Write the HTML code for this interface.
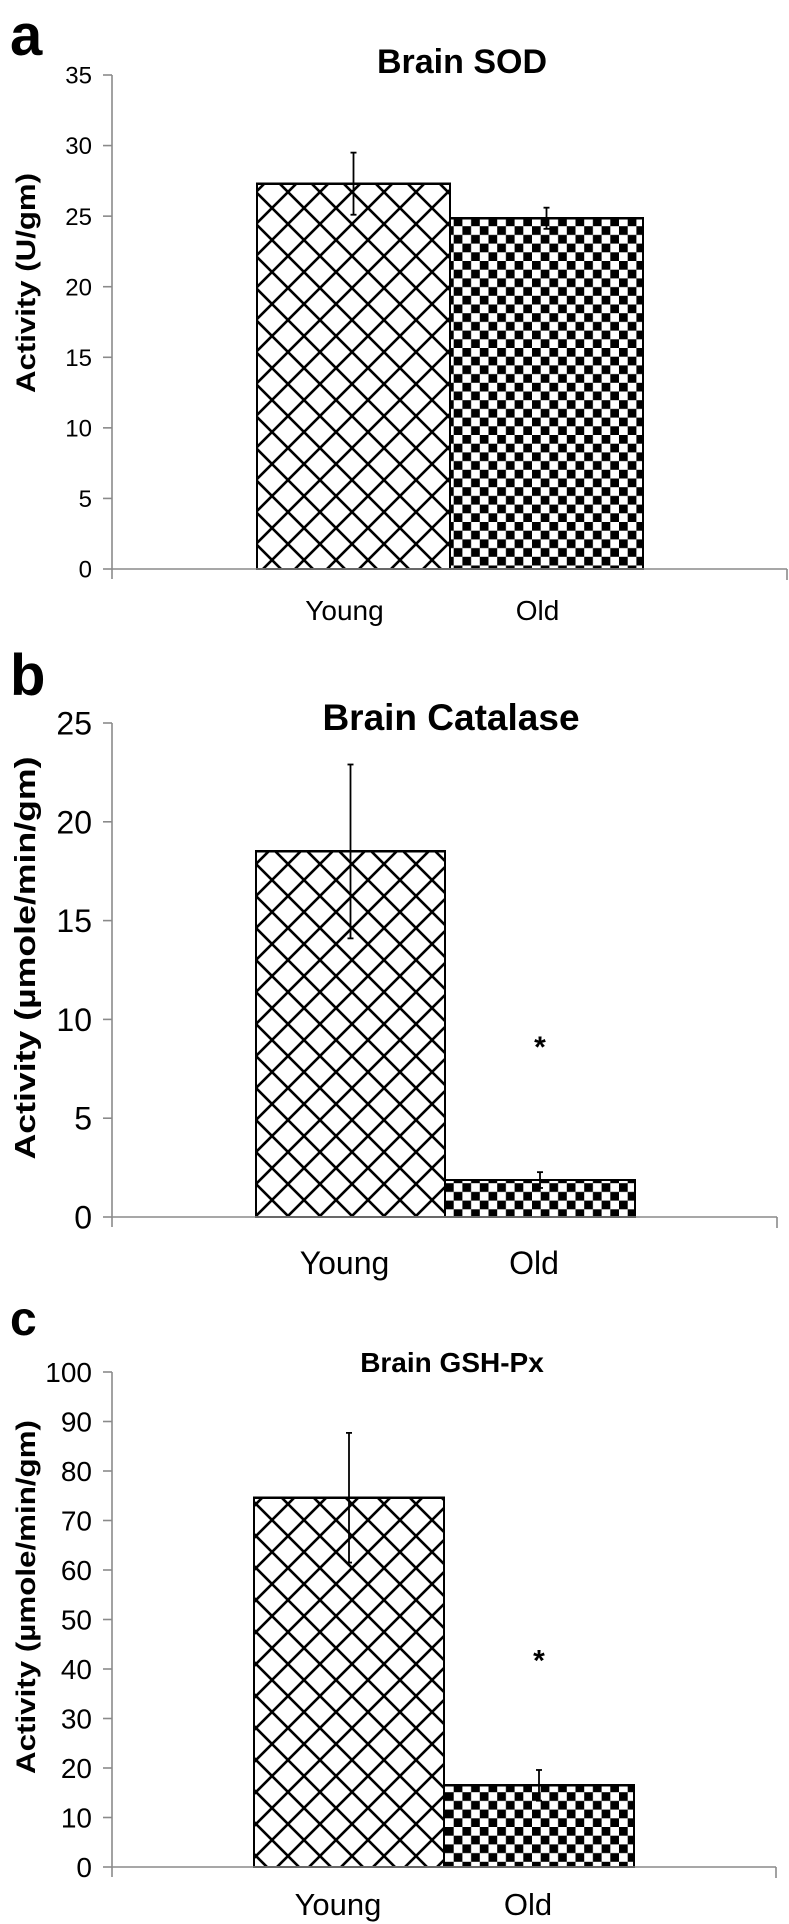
<!DOCTYPE html>
<html><head><meta charset="utf-8">
<style>
html,body{margin:0;padding:0;background:#fff;}
svg{display:block;font-family:"Liberation Sans",Arial,sans-serif;}
</style></head>
<body>
<svg id="fig" width="789" height="1924" viewBox="0 0 789 1924" xmlns="http://www.w3.org/2000/svg">
<defs>
<pattern id="diamond" patternUnits="userSpaceOnUse" width="32" height="32" x="256" y="0">
<path d="M0,0 L32,32 M32,0 L0,32" stroke="#000" stroke-width="2.6" fill="none"/>
</pattern>
<pattern id="checker" patternUnits="userSpaceOnUse" width="17.4" height="17.4" x="445" y="0">
<rect x="0" y="0" width="8.7" height="8.7" fill="#000"/>
<rect x="8.7" y="8.7" width="8.7" height="8.7" fill="#000"/>
</pattern>
</defs>
<text x="10" y="55" font-size="58" font-weight="bold">a</text>
<text x="10" y="695" font-size="58" font-weight="bold">b</text>
<text x="10" y="1335" font-size="48" font-weight="bold">c</text>
<text x="462" y="73" font-size="34" font-weight="bold" text-anchor="middle">Brain SOD</text>
<text x="451" y="730" font-size="37" font-weight="bold" text-anchor="middle">Brain Catalase</text>
<text x="452" y="1372" font-size="28" font-weight="bold" text-anchor="middle">Brain GSH-Px</text>
<text transform="translate(35,283) rotate(-90)" font-size="27" font-weight="bold" text-anchor="middle" textLength="220" lengthAdjust="spacingAndGlyphs">Activity (U/gm)</text>
<text transform="translate(35,958) rotate(-90)" font-size="29" font-weight="bold" text-anchor="middle" textLength="403" lengthAdjust="spacingAndGlyphs">Activity (µmole/min/gm)</text>
<text transform="translate(35,1597) rotate(-90)" font-size="27" font-weight="bold" text-anchor="middle" textLength="354" lengthAdjust="spacingAndGlyphs">Activity (µmole/min/gm)</text>
</svg>
<script>
const categories = ["Young", "Old"];
const sodValues = [27.3, 24.85];
const sodErrors = [2.2, 0.75];
const sodTicks = [0, 5, 10, 15, 20, 25, 30, 35];
const catalaseValues = [18.5, 1.87];
const catalaseErrors = [4.4, 0.4];
const catalaseTicks = [0, 5, 10, 15, 20, 25];
const catalaseStar = [null, 8.8];
const gshValues = [74.6, 16.5];
const gshErrors = [13.1, 3.1];
const gshTicks = [0, 10, 20, 30, 40, 50, 60, 70, 80, 90, 100];
const gshStar = [null, 42.5];

const NS = "http://www.w3.org/2000/svg";
const svg = document.getElementById("fig");
function mk(tag, attrs, parent) {
  const e = document.createElementNS(NS, tag);
  for (const k in attrs) e.setAttribute(k, attrs[k]);
  (parent || svg).appendChild(e);
  return e;
}
const fills = ["url(#diamond)", "url(#checker)"];

function panel(id, values, errors, ticks, stars, geom) {
  const g = mk("g", {});
  
  
  const maxV = ticks[ticks.length - 1];
  const y = v => geom.y0 - (v / maxV) * (geom.y0 - geom.yTop);
  const bandW = (geom.xEnd - geom.axisX) / (categories.length + 1.55);
  const xBar = i => geom.barX[i];
  // y axis
  const ya = mk("line", {x1: geom.axisX, y1: geom.yTop, x2: geom.axisX, y2: geom.y0 + 10, stroke: "#8a8a8a", "stroke-width": 1.6}, g);
  
  
  ticks.forEach(t => {
    const tk = mk("line", {x1: geom.axisX - 9, y1: y(t), x2: geom.axisX, y2: y(t), stroke: "#8a8a8a", "stroke-width": 1.6}, g);
    
    
    const tl = mk("text", {x: geom.axisX - 20, y: y(t) + geom.tickFs * 0.36, "font-size": geom.tickFs, "text-anchor": "end"}, g);
    
    
    tl.textContent = t;
  });
  // bars
  values.forEach((v, i) => {
    const x0 = xBar(i), x1 = xBar(i + 1);
    const r = mk("rect", {x: x0, y: y(v), width: x1 - x0, height: geom.y0 - y(v), fill: "#fff", stroke: "none"}, g);
    
    
    const rp = mk("rect", {x: x0, y: y(v), width: x1 - x0, height: geom.y0 - y(v), fill: fills[i], stroke: "#000", "stroke-width": 2.4, "shape-rendering": "crispEdges"}, g);
    
    
    const cx = (x0 + x1) / 2;
    const eb = mk("line", {x1: cx, y1: y(v + errors[i]), x2: cx, y2: y(v - errors[i]), stroke: "#000", "stroke-width": 1.8}, g);
    
    
    [v + errors[i], v - errors[i]].forEach(ev => {
      const cap = mk("line", {x1: cx - 3, y1: y(ev), x2: cx + 3, y2: y(ev), stroke: "#000", "stroke-width": 1.8}, g);
      
      
    });
    const lbl = mk("text", {x: cx + geom.lblDx, y: geom.lblY, "font-size": geom.lblFs, "text-anchor": "middle"}, g);
    
    
    lbl.textContent = categories[i];
    if (stars && stars[i] != null) {
      const st = mk("text", {x: cx, y: y(stars[i]) + 14, "font-size": 30, "font-weight": "bold", "text-anchor": "middle"}, g);
      
      
      st.textContent = "*";
    }
  });
  // x axis
  const xa = mk("line", {x1: geom.axisX, y1: geom.y0, x2: geom.xEnd, y2: geom.y0, stroke: "#8a8a8a", "stroke-width": 1.6}, g);
  
  
  const xt = mk("line", {x1: geom.xEnd, y1: geom.y0, x2: geom.xEnd, y2: geom.y0 + 11, stroke: "#8a8a8a", "stroke-width": 1.6}, g);
  
  
}

panel("a", sodValues, sodErrors, sodTicks, null,
  {axisX: 112, y0: 569, yTop: 75, xEnd: 787, barX: [257, 450, 643], tickFs: 24, lblFs: 28, lblY: 620, lblDx: -9});
panel("b", catalaseValues, catalaseErrors, catalaseTicks, catalaseStar,
  {axisX: 112, y0: 1217, yTop: 723, xEnd: 777, barX: [256, 445, 635], tickFs: 32, lblFs: 32, lblY: 1274, lblDx: -6});
panel("c", gshValues, gshErrors, gshTicks, gshStar,
  {axisX: 112, y0: 1867, yTop: 1372, xEnd: 776, barX: [254, 444, 634], tickFs: 28, lblFs: 31, lblY: 1915, lblDx: -11});
</script>
</body></html>
